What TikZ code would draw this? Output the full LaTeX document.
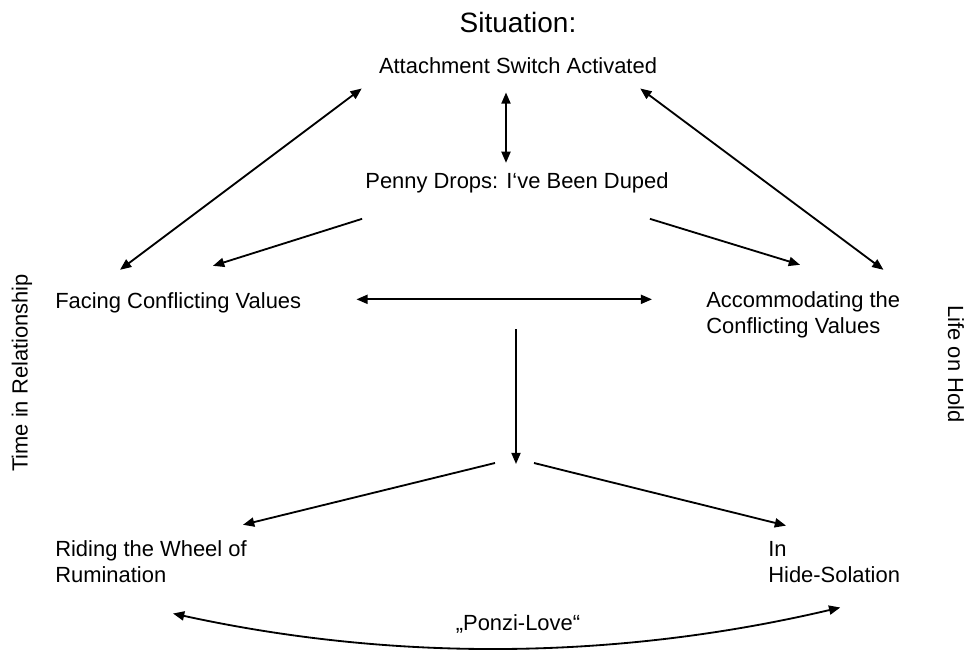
\documentclass[tikz,border=0pt]{standalone}
\usepackage{fontspec}
\setmainfont{Liberation Sans}
\usetikzlibrary{arrows.meta, calc}
\tikzset{
>={Triangle[length=8pt,width=6.5pt]},
black!75,
text=black,
lbl/.style={%
    inner sep=0pt,
    font=\fontsize{15.6pt}{17.8pt}\selectfont
},
headline/.style={%
    lbl, font=\fontsize{19.9pt}{22pt}\selectfont
},
arr/.style={<->, line width=1.3pt},
to/.style={->, line width=1.3pt},
}

\begin{document}
\begin{tikzpicture}[x=0.025cm, y=-0.025cm]
	\useasboundingbox (0,0) rectangle (966,650);

	\node[headline, anchor=base] at (518,33) (sit) {Situation:};
	\node[lbl, anchor=base] at (518,73) (att) {Attachment Switch Activated};
	\node[lbl, anchor=base] at (517,188) (penny) {Penny Drops: I‘ve Been Duped};
	\node[lbl, anchor=base west] at (55,308) (face) {Facing Conflicting Values};
	\node[lbl, anchor=base west, align=left] at (706,333) (acc) {Accommodating the\\Conflicting Values};
	\node[lbl, anchor=base west, align=left] at (55,582) (ride) {Riding the Wheel of\\Rumination};
	\node[lbl, anchor=base west, align=left] at (768,582) (hide) {In\\Hide-Solation};
	\node[lbl, anchor=base] at (518,630) (ponzi) {„Ponzi-Love“};
	\node[lbl, rotate=90] at (22,373) (time) {Time in Relationship};
	\node[lbl, rotate=-90] at (956,364) (life) {Life on Hold};

	\coordinate (split) at (516,329);
	\coordinate (fork) at (516,464);

	\path ([shift={(-17,15)}]att.south west) edge[arr] ([shift={(65,-22)}]face.north west);
	\path ([shift={(-12,19)}]att.south) edge[arr] ([shift={(-11,-9)}]penny.north);
	\path ([shift={(-17,15)}]att.south east) edge[arr] ([shift={(-17,-22)}]acc.north east);

	\path ([shift={(-3,26)}]penny.south west) edge[to] ([shift={(158,-26)}]face.north west);
	\path ([shift={(-19,26)}]penny.south east) edge[to] ([shift={(94,-27)}]acc.north west);

	\path ([shift={(55,-3)}]face.east) edge[arr] ($(face.east -| acc.west)+(-54,-3)$);

	\path (split) edge[to] (fork);
	\path ([shift={(-21,-1)}]fork) edge[to] ([shift={(-4,-16)}]ride.north east);
	\path ([shift={(18,-1)}]fork) edge[to] ([shift={(18,-16)}]hide.north west);

	\draw[arr] ([shift={(118,31)}]ride.south west) .. controls (395,662) and (617,660) .. ([shift={(-60,25)}]hide.south east);
\end{tikzpicture}
\end{document}
